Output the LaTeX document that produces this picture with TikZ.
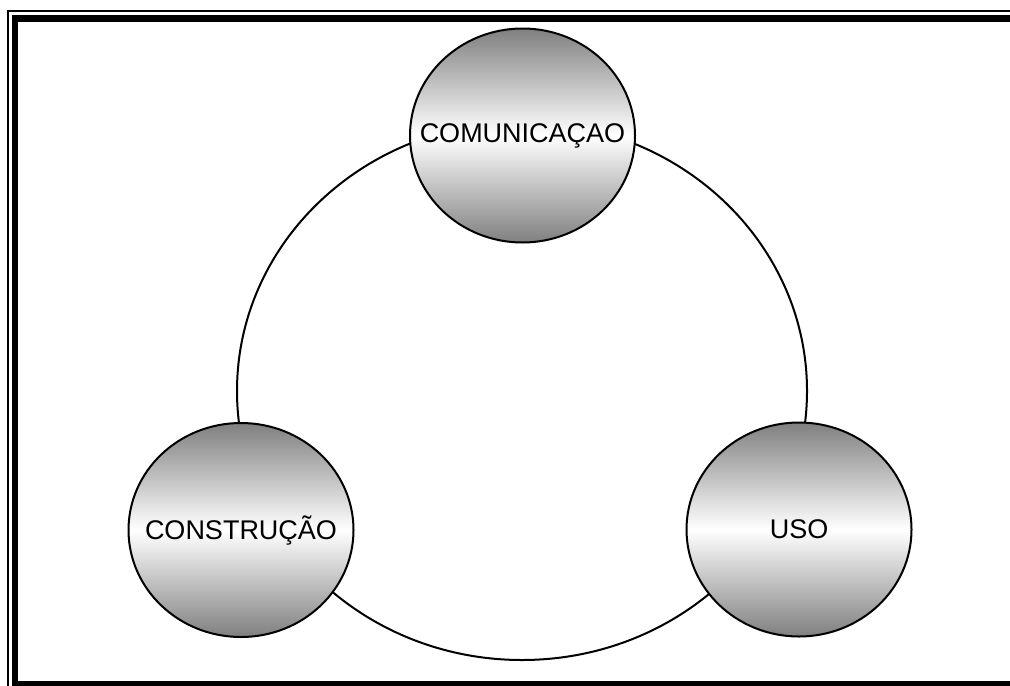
\documentclass[tikz,border=0pt]{standalone}
\usepackage{fontspec}
\setmainfont{Liberation Sans}
\usetikzlibrary{shapes.geometric}

\begin{document}
\begin{tikzpicture}[x=0.5pt,y=-0.5pt]

        \def \rx {112.5pt}
        \def \ry {107pt}

        \tikzset{topic/.style={ellipse,draw,line width=1pt,
                inner xsep=-20pt,inner ysep=0pt,
                minimum width=\rx,minimum height=\ry,
                top color=black!50,bottom color=black!50,middle color=white}}
        \tikzset{ring/.style={ellipse,draw,line width=1pt,inner sep=0pt,
                minimum width=285pt,minimum height=269pt}}

        \fontsize{13.5}{16}\selectfont

        \useasboundingbox (0,0) rectangle (1010,685);

        % Draw frame
        \begin{scope}
            \clip (0,0) rectangle (1010,685);
            \draw[line width=1pt] (7.5,10.8) rectangle (1030,705);
            \draw[line width=3.3pt] (14.8,18.4) rectangle (1030,684);
        \end{scope}

        % Draw cycle
        \node (cycle) at (522,391) [ring] {};

        % Draw topics
        \foreach \name/\x/\y/\txt in {com/522.5/135.5/COMUNICAÇAO,
                                      con/241/530/CONSTRUÇÃO,
                                      uso/799/529.5/USO} {
            \node (\name) at (\x,\y) [topic] {\txt};
        }

    \end{tikzpicture}
\end{document}
